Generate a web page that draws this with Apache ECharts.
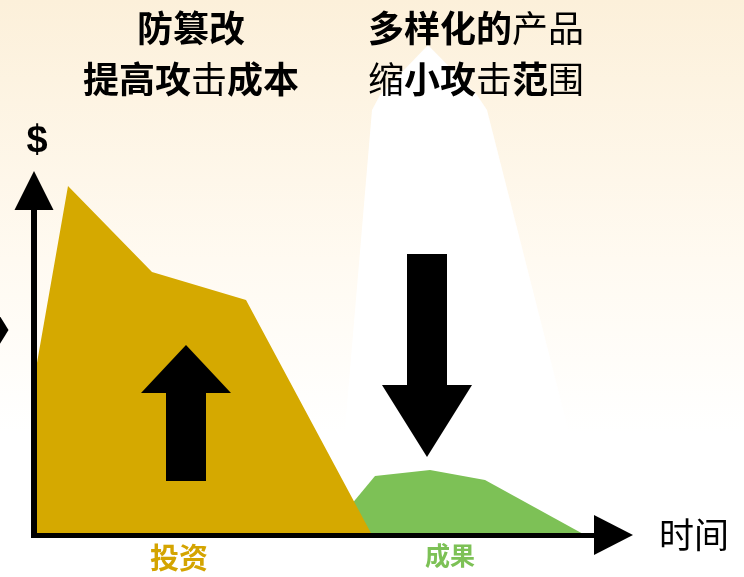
<!DOCTYPE html>
<html>
<head>
<meta charset="utf-8">
<script src="https://cdn.jsdelivr.net/npm/echarts@6/dist/echarts.min.js"></script>
<style>
html, body { margin: 0; padding: 0; }
#main { width: 744px; height: 577px; }
</style>
</head>
<body>
<div id="main"></div>
<script>
// 投资 (gold) and 成果 (green) areas, x = time, y = $
var investData = [[0, 31], [6.8, 69.8], [23.6, 52.6], [42.4, 47], [67.6, 0]];
var resultData = [[58.4, 0], [68.2, 11.8], [79.2, 13], [90.2, 11], [110.2, 0]];
// white spotlight behind the green area
var spotData = [[60.4, 0], [67.6, 85], [69.2, 88], [78.8, 98], [88.6, 88], [90.6, 85], [112.2, 0]];
// small arrow cut off at left edge
var leftTriData = [[-8.4, 46.3], [-5.1, 41], [-8.4, 35.7]];
// arrows: [x, tail y, head base y, tip y]
var arrowData = [[30.4, 10.8, 28.4, 38], [78.6, 56.2, 30, 15.6]];

var myChart = echarts.init(document.getElementById('main'));

function polyItem(points, color) {
	return function (params, api) {
		var pts = points.map(function (p) { return api.coord(p); });
		return { type: 'polygon', shape: { points: pts }, style: { fill: color } };
	};
}

function renderArrow(params, api) {
	var x = api.value(0), tail = api.value(1), base = api.value(2), tip = api.value(3);
	var sw = 4, hw = 9;  //shaft / head half width
	var pts = [
		[x - sw, tail], [x - sw, base], [x - hw, base], [x, tip],
		[x + hw, base], [x + sw, base], [x + sw, tail]
	].map(function (p) { return api.coord(p); });
	return { type: 'polygon', shape: { points: pts }, style: { fill: '#000' } };
}

var font = '"Noto Sans CJK SC", sans-serif';
var rich = {
	b: { fontFamily: font, fontSize: 36, fontWeight: 'bold', fill: '#000' },
	n: { fontFamily: font, fontSize: 36, fontWeight: 'normal', fill: '#000' }
};

option = {
	backgroundColor: {
		type: 'linear', x: 0, y: 0, x2: 0, y2: 1,
		colorStops: [
			{ offset: 0, color: '#fcf0da' },
			{ offset: 0.45, color: '#fffaf1' },
			{ offset: 0.75, color: '#ffffff' },
			{ offset: 1, color: '#ffffff' }
		]
	},
	animation: false,
	grid: { left: 34, right: 150, top: 210, bottom: 42 },
	xAxis: {
		type: 'value', min: 0, max: 112, z: 10,
		axisLine: {
			show: true, symbol: ['none', 'triangle'], symbolSize: [40, 39], symbolOffset: [0, 19.5],
			lineStyle: { color: '#000', width: 5, cap: 'square' }
		},
		axisTick: { show: false }, axisLabel: { show: false }, splitLine: { show: false }
	},
	yAxis: {
		type: 'value', min: 0, max: 65, z: 10,
		axisLine: {
			show: true, symbol: ['none', 'triangle'], symbolSize: [39, 39], symbolOffset: [0, 19.5],
			lineStyle: { color: '#000', width: 6, cap: 'square' }
		},
		axisTick: { show: false }, axisLabel: { show: false }, splitLine: { show: false }
	},
	series: [
		{
			type: 'custom', z: 1, silent: true, clip: false,
			data: [0],
			renderItem: polyItem(spotData, '#ffffff')
		},
		{
			type: 'custom', z: 1, silent: true, clip: false,
			data: [0],
			renderItem: polyItem(leftTriData, '#000000')
		},
		{
			name: '成果', type: 'line', z: 2, silent: true, showSymbol: false, clip: false,
			data: resultData,
			lineStyle: { width: 0 },
			areaStyle: { color: '#7dc156', opacity: 1 }
		},
		{
			name: '投资', type: 'line', z: 3, silent: true, showSymbol: false, clip: false,
			data: investData,
			lineStyle: { width: 0 },
			areaStyle: { color: '#d5a900', opacity: 1 }
		},
		{
			type: 'custom', z: 4, silent: true, clip: false,
			data: arrowData,
			renderItem: renderArrow
		}
	],
	graphic: [
		{ type: 'text', z: 100, x: 191, y: 28, style: { text: '{b|防篡改}', rich: rich, align: 'center', verticalAlign: 'middle' } },
		{ type: 'text', z: 100, x: 191, y: 79, style: { text: '{b|提高攻}{n|击}{b|成本}', rich: rich, align: 'center', verticalAlign: 'middle' } },
		{ type: 'text', z: 100, x: 476, y: 28, style: { text: '{b|多样化的}{n|产品}', rich: rich, align: 'center', verticalAlign: 'middle' } },
		{ type: 'text', z: 100, x: 476, y: 79, style: { text: '{n|缩}{b|小攻}{n|击}{b|范}{n|围}', rich: rich, align: 'center', verticalAlign: 'middle' } },
		{ type: 'text', z: 100, x: 37, y: 142, style: { text: '$', fill: '#000', font: 'bold 38px "Liberation Sans", sans-serif', align: 'center', verticalAlign: 'middle' } },
		{ type: 'text', z: 100, x: 694, y: 535, style: { text: '时间', fill: '#000', font: 'normal 35px ' + font, align: 'center', verticalAlign: 'middle' } },
		{ type: 'text', z: 100, x: 179, y: 558, style: { text: '投资', fill: '#d4a400', font: 'bold 29px ' + font, align: 'center', verticalAlign: 'middle' } },
		{ type: 'text', z: 100, x: 450, y: 555, style: { text: '成果', fill: '#7dc156', font: 'bold 25px ' + font, align: 'center', verticalAlign: 'middle' } }
	]
};
myChart.setOption(option);
</script>
</body>
</html>
